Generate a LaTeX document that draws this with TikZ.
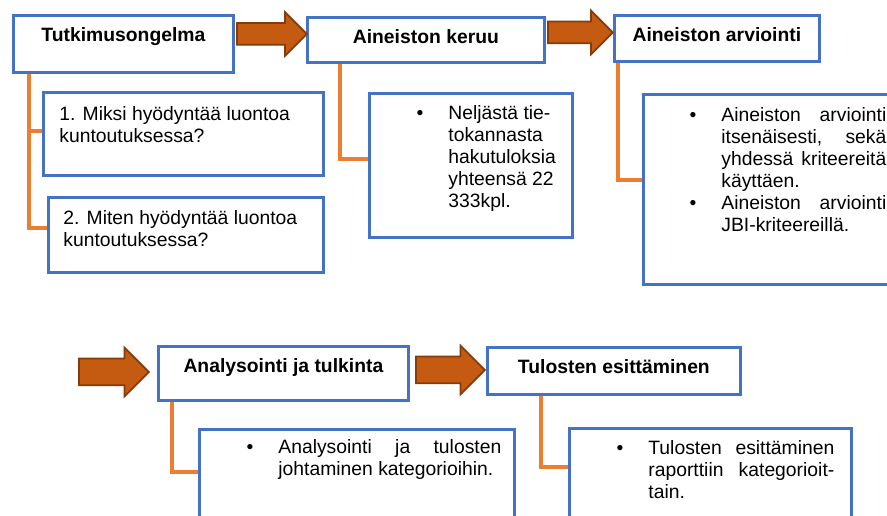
\documentclass[tikz,border=0pt]{standalone}
\usepackage{fontspec}
\setmainfont{Liberation Sans}
\usetikzlibrary{shapes.arrows}
\definecolor{boxblue}{RGB}{68,114,196}
\definecolor{linkorange}{RGB}{237,125,49}
\definecolor{flowfill}{RGB}{197,90,17}
\definecolor{flowedge}{RGB}{132,60,12}
\tikzset{%
  stage/.style={draw=boxblue,line width=1.6pt,fill=white,font=\fontsize{11}{12.5}\selectfont\bfseries,
    inner sep=0pt,anchor=north west,align=center,text height=0.52cm},
  detail/.style={draw=boxblue,line width=1.6pt,fill=white,inner sep=0pt,anchor=north west},
  link/.style={draw=linkorange,line width=1.8pt},
  flow/.style={single arrow,draw=flowedge,fill=flowfill,line width=1pt,inner xsep=0pt,
    inner ysep=#1,single arrow head extend=0.22cm,shape border rotate=0,anchor=tail},
  flow/.default=0.2cm
}
% width, height, left indent, right indent, first baseline, text
\NewDocumentCommand\boxtext{mmmmm+m}{%
  \parbox[c][#2][t]{#1}{\leftskip=#3\rightskip=#4\relax\rule{0pt}{#5}#6}}
\NewDocumentCommand\itemdot{}{\leavevmode\llap{\textbullet\hspace{0.5cm}}}
\begin{document}
\begin{tikzpicture}[x=0.02cm,y=-0.02cm,font=\fontsize{11}{12.5}\selectfont]
  \useasboundingbox (0,0) rectangle (887,516);
  \clip (0,0) rectangle (887,516);
  %%% stages
  \node[stage,minimum width=4.4cm,minimum height=1.14cm,text depth=0.62cm] (s1) at (12,14) {Tutkimusongelma};
  \node[stage,minimum width=4.74cm,minimum height=0.9cm,text depth=0.38cm] (s2) at (306,16) {Aineiston keruu};
  \node[stage,minimum width=4.1cm,minimum height=0.92cm,text depth=0.4cm] (s3) at (613,14) {Aineiston arviointi};
  \node[stage,minimum width=5cm,minimum height=1cm,text depth=0.56cm] (s4) at (157,345) {Analysointi ja tulkinta};
  \node[stage,minimum width=5.06cm,minimum height=0.94cm,text depth=0.42cm] (s5) at (486,346) {Tulosten esittäminen};
  %%% flow arrows
  \node[flow,minimum height=1.40cm] (f1) at (236,34) {};
  \node[flow,minimum height=1.30cm] (f2) at (547,32.5) {};
  \node[flow=0.25cm,minimum height=1.40cm] (f3) at (78,372) {};
  \node[flow=0.25cm,minimum height=1.38cm] (f4) at (415,370) {};
  %%% details
  \node[detail] (d1) at (42,91) {\boxtext{5.6cm}{1.66cm}{0.32cm}{0pt}{0.56cm}{%
    1. Miksi hyödyntää luontoa\\kuntoutuksessa?}};
  \node[detail] (d2) at (47,196) {\boxtext{5.5cm}{1.5cm}{0.3cm}{0pt}{0.54cm}{%
    2. Miten hyödyntää luontoa\\kuntoutuksessa?}};
  \node[detail] (d3) at (368,92) {\boxtext{4.06cm}{2.88cm}{1.58cm}{0pt}{0.52cm}{%
    \itemdot Neljästä tie-\\tokannasta\\hakutuloksia\\yhteensä 22\\333kpl.}};
  \node[detail] (d4) at (642,93) {\boxtext{5.16cm}{3.8cm}{1.56cm}{0.3cm}{0.54cm}{%
    \itemdot Aineiston\hfill arviointi\\itsenäisesti,\hfill sekä\\yhdessä\hfill kriteereitä\\käyttäen.\par
    \itemdot Aineiston\hfill arviointi\\JBI-kriteereillä.}};
  \node[detail] (d5) at (198,428) {\boxtext{6.3cm}{2.24cm}{1.58cm}{0.26cm}{0.48cm}{%
    \itemdot Analysointi\hfill ja\hfill tulosten\\johtaminen kategorioihin.}};
  \node[detail] (d6) at (568,427) {\boxtext{5.64cm}{2.26cm}{1.58cm}{0.34cm}{0.52cm}{%
    \itemdot Tulosten\hfill esittäminen\\raporttiin\hfill kategorioit-\\tain.}};
  %%% links
  \draw[link] ([xshift=0.34cm]s1.south west) |- ([yshift=-0.8cm]d1.north west);
  \draw[link] ([xshift=0.34cm]s1.south west) |- ([yshift=-0.64cm]d2.north west);
  \draw[link] ([xshift=0.68cm]s2.south west) |- ([yshift=-1.34cm]d3.north west);
  \draw[link] ([xshift=0.1cm]s3.south west) |- ([yshift=-1.74cm]d4.north west);
  \draw[link] ([xshift=0.3cm]s4.south west) |- ([yshift=-0.88cm]d5.north west);
  \draw[link] ([xshift=1.1cm]s5.south west) |- ([yshift=-0.8cm]d6.north west);
\end{tikzpicture}
\end{document}
